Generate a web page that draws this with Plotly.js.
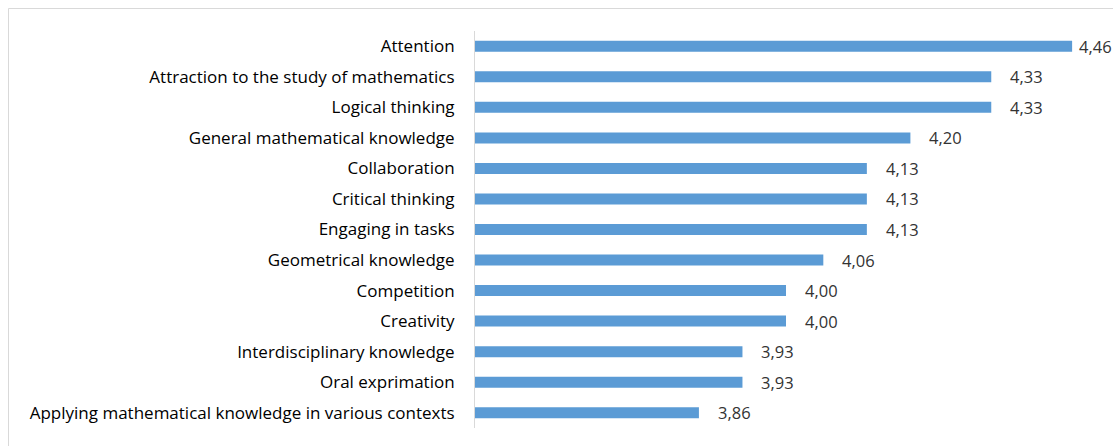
<!DOCTYPE html>
<html>
<head>
<meta charset="utf-8">
<script src="https://cdn.plot.ly/plotly-3.0.1.min.js"></script>
<style>html,body{margin:0;padding:0;background:#fff;}#chart{width:1113px;height:446px;}</style>
</head>
<body>
<div id="chart"></div>
<script>
const categories = [
  "Attention",
  "Attraction to the study of mathematics",
  "Logical thinking",
  "General mathematical knowledge",
  "Collaboration",
  "Critical thinking",
  "Engaging in tasks",
  "Geometrical knowledge",
  "Competition",
  "Creativity",
  "Interdisciplinary knowledge",
  "Oral exprimation",
  "Applying mathematical knowledge in various contexts"
];
const values = [4.46, 4.33, 4.33, 4.20, 4.13, 4.13, 4.13, 4.06, 4.00, 4.00, 3.93, 3.93, 3.86];
const valueLabels = values.map(v => v.toFixed(2).replace('.', ','));

const W = 1113, H = 446;
const mL = 475, mR = 16, mT = 31, mB = 18;
const pw = W - mL - mR, ph = H - mT - mB;
const xMin = 3.5, xMax = 4.5;
const px = x => (x - mL) / pw;
const py = y => (H - mB - y) / ph;
const FONT = '"Open Sans", "Noto Sans", sans-serif';
const LABEL_GAP = 17, LABEL_W = 36, CHART_RIGHT = 1113;

const trace = {
  type: 'bar',
  orientation: 'h',
  y: categories,
  x: values,
  marker: {color: '#5B9BD5'},
  hoverinfo: 'skip'
};

// Data labels: placed outside end, kept inside the chart area (as the original does)
const annotations = values.map((v, i) => {
  const endPx = mL + (v - xMin) / (xMax - xMin) * pw;
  const shift = Math.min(LABEL_GAP, CHART_RIGHT - LABEL_W - endPx);
  return {
    x: v, y: categories[i], xref: 'x', yref: 'y',
    text: valueLabels[i], showarrow: false,
    xanchor: 'left', yanchor: 'middle', xshift: shift,
    font: {family: FONT, size: 16.5, color: '#333333', weight: 500}
  };
});

const layout = {
  width: W, height: H,
  margin: {l: mL, r: mR, t: mT, b: mB, pad: 0},
  paper_bgcolor: '#ffffff',
  plot_bgcolor: '#ffffff',
  showlegend: false,
  bargap: 0.64,
  font: {family: FONT, size: 17, color: '#000000'},
  xaxis: {range: [xMin, xMax], visible: false, fixedrange: true},
  yaxis: {
    type: 'category',
    autorange: 'reversed',
    showline: true, linecolor: '#D9D9D9', linewidth: 1,
    ticks: '', showgrid: false, zeroline: false,
    ticklabelstandoff: 16,
    tickfont: {family: FONT, size: 17, color: '#000000', weight: 500},
    fixedrange: true
  },
  annotations: annotations,
  shapes: [{
    type: 'rect', xref: 'paper', yref: 'paper',
    x0: px(8.5), x1: px(1125), y0: py(8.5), y1: py(460),
    line: {color: '#D9D9D9', width: 1}, fillcolor: 'rgba(0,0,0,0)', layer: 'below'
  }]
};

Plotly.newPlot('chart', [trace], layout, {displayModeBar: false, staticPlot: true});
</script>
</body>
</html>
